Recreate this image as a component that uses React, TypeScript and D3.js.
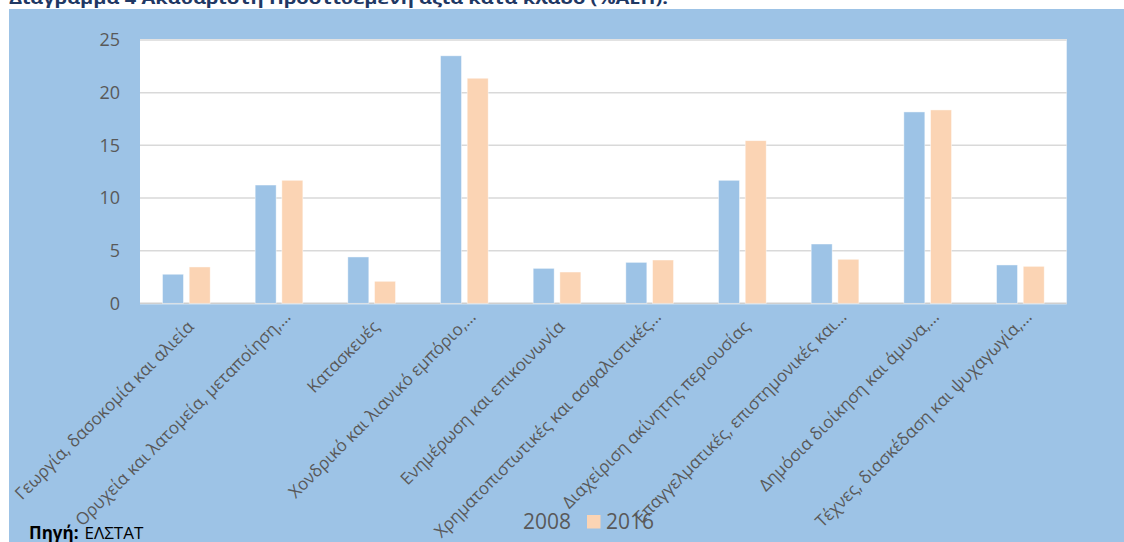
import React from "react";
import * as d3 from "d3";

const categories = [
  "Γεωργία, δασοκομία και αλιεία",
  "Ορυχεία και λατομεία, μεταποίηση,…",
  "Κατασκευές",
  "Χονδρικό και λιανικό εμπόριο,…",
  "Ενημέρωση και επικοινωνία",
  "Χρηματοπιστωτικές και ασφαλιστικές…",
  "Διαχείριση ακίνητης περιουσίας",
  "Επαγγελματικές, επιστημονικές και…",
  "Δημόσια διοίκηση και άμυνα,…",
  "Τέχνες, διασκέδαση και ψυχαγωγία,…",
];
const values2008 = [2.76, 11.23, 4.4, 23.5, 3.32, 3.89, 11.68, 5.63, 18.17, 3.64];
const values2016 = [3.45, 11.68, 2.09, 21.37, 2.97, 4.11, 15.44, 4.18, 18.36, 3.51];
const seriesNames = ["2008", "2016"];
const yTicks = [0, 5, 10, 15, 20, 25];
const titleText = "Διάγραμμα 4 Ακαθάριστη Προστιθέμενη αξία κατά κλάδο (%ΑΕΠ).";

const W = 1124;
const H = 542;
const FONT = "'Open Sans', 'Noto Sans', sans-serif";
const BG = "#9DC3E6";
const COLORS = ["#9DC3E6", "#FBD4B4"];
const TEXT = "#595959";

export default function App() {
  const plotL = 140, plotR = 1066.7, plotT = 40, plotB = 303.3;
  const x0 = d3.scaleBand<string>().domain(categories).range([plotL, plotR]);
  const half = 23.85;
  const x1 = d3.scaleBand<string>().domain(seriesNames).range([-half, half]).paddingInner(0.2135);
  const y = d3.scaleLinear().domain([0, 25]).range([plotB, plotT]);
  const series = [values2008, values2016];

  return (
    <svg width={W} height={H} style={{ position: "absolute", left: 0, top: 0 }} fontFamily={FONT}>
      <rect x={0} y={0} width={W} height={H} fill="#fff" />
      <text x={9} y={4} fontSize={16.5} fontWeight="bold" fill="#1F3864" textLength={659} lengthAdjust="spacingAndGlyphs">{titleText}</text>
      <rect x={9} y={9} width={W - 9} height={H - 9} fill={BG} />
      <rect x={plotL} y={plotT - 1} width={plotR - plotL} height={plotB - plotT + 2} fill="#fff" />
      {yTicks.map((t) => (
        <g key={t}>
          <line x1={plotL} x2={plotR} y1={y(t)} y2={y(t)} stroke={t === 0 ? "#CFCFCF" : "#D9D9D9"} strokeWidth={1.5} />
          <text x={120} y={y(t)} dy="0.35em" textAnchor="end" fontSize={18} fill={TEXT}>{t}</text>
        </g>
      ))}
      {categories.map((c, i) => {
        const cx = (x0(c) as number) + x0.bandwidth() / 2;
        return (
          <g key={c}>
            {series.map((vals, s) => (
              <rect
                key={s}
                x={cx + (x1(seriesNames[s]) as number)}
                y={y(vals[i])}
                width={x1.bandwidth()}
                height={y(0) - y(vals[i])}
                fill={COLORS[s]}
                stroke="#fff"
                strokeOpacity={0.6}
                strokeWidth={0.75}
              />
            ))}
          </g>
        );
      })}
      {categories.map((c) => {
        const cx = (x0(c) as number) + x0.bandwidth() / 2;
        const trunc = c.endsWith("…");
        const ax = cx + (trunc ? 12.5 : 8.5);
        const ay = trunc ? 318 : 328;
        return (
          <text key={c} transform={`translate(${ax},${ay}) rotate(-45)`} textAnchor="end" fontSize={17} fill={TEXT}>{c}</text>
        );
      })}
      <rect x={504} y={515} width={13.5} height={13.5} fill={COLORS[0]} />
      <text x={523} y={528.5} fontSize={21} fill={TEXT}>{seriesNames[0]}</text>
      <rect x={587} y={515} width={13.5} height={13.5} fill={COLORS[1]} />
      <text x={606} y={528.5} fontSize={21} fill={TEXT}>{seriesNames[1]}</text>
      <text x={29} y={539} fontSize={17} fill="#000">
        <tspan fontWeight="bold">Πηγή:</tspan>
        <tspan dx={6}>ΕΛΣΤΑΤ</tspan>
      </text>
    </svg>
  );
}
